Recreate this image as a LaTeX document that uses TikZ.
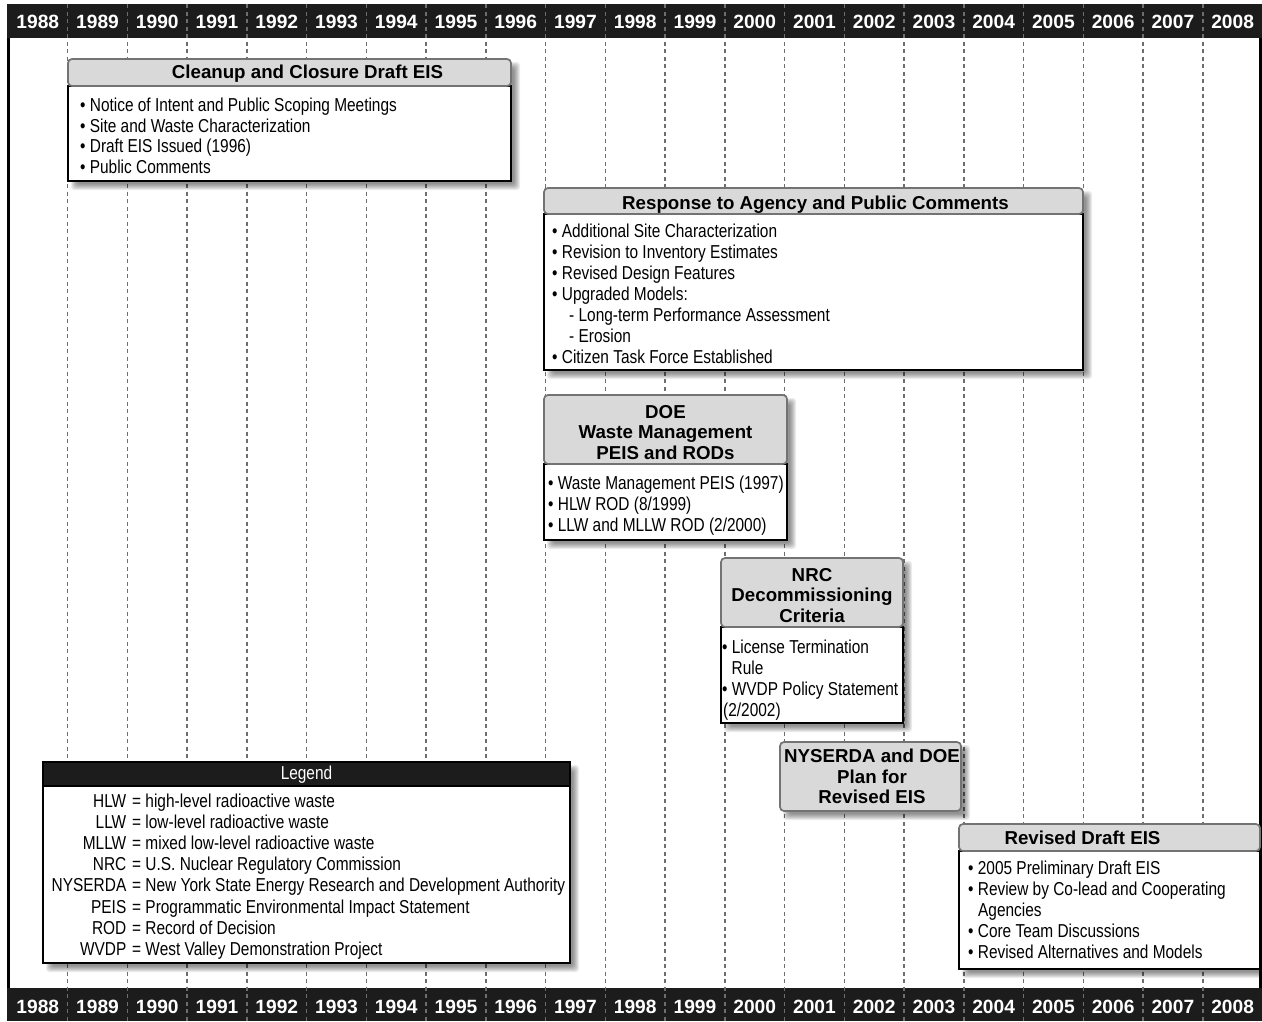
\documentclass[tikz,border=0pt]{standalone}
\usepackage{fontspec}
\setmainfont{Liberation Sans}
\newfontfamily\narrowfont[FakeStretch=0.825]{Liberation Sans}
\definecolor{barblack}{HTML}{1C1C1C}
\definecolor{hdrfill}{HTML}{D9D9D9}
\definecolor{hdrline}{HTML}{737373}
\definecolor{gridgray}{HTML}{6E6E6E}
\newcommand\boxshadow[4]{%
  \foreach \r in {0,1,2,3,4,5,6}{%
    \fill[black,opacity=0.075,rounded corners=3pt] ({#1+6-3+\r},{#2+6-3+\r}) rectangle ({#3+6+3-\r},{#4+6+3-\r});}}
\tikzset{
  hdr/.style={draw=hdrline, fill=hdrfill, line width=1.7pt, rounded corners=4pt},
  bodybox/.style={draw=black, fill=white, line width=1.5pt},
  item/.style={anchor=base west, inner sep=0pt, font=\narrowfont\fontsize{18.7}{21}\selectfont},
  itemr/.style={anchor=base east, inner sep=0pt, font=\narrowfont\fontsize{18.7}{21}\selectfont},
  htext/.style={anchor=base, inner sep=0pt, font=\bfseries\fontsize{18.7}{21}\selectfont},
  yearlbl/.style={anchor=base, inner sep=0pt, text=white, font=\bfseries\fontsize{19.2}{20}\selectfont},
  gridline/.style={draw=gridgray, line width=1.5pt, dash pattern=on 4pt off 3.5pt},
}
\begin{document}
\begin{tikzpicture}[x=1pt,y=-1pt]
\useasboundingbox (0,0) rectangle (1262,1021);
\fill[white] (0,0) rectangle (1262,1021);
% bars
\fill[barblack] (7,4) rectangle (1262,38);
\fill[barblack] (7,988) rectangle (1262,1021);
% grid
\foreach \k in {0,...,19}{
  \draw[gridline] ({67.7+59.74*\k},4) -- ({67.7+59.74*\k},1021);
}
% frame
\draw[black,line width=2.5pt] (8.5,38) -- (8.5,988);
\draw[black,line width=2.5pt] (1260.5,38) -- (1260.5,988);
% years
\foreach \y [count=\i from 0] in {1988,1989,1990,1991,1992,1993,1994,1995,1996,1997,1998,1999,2000,2001,2002,2003,2004,2005,2006,2007,2008}{
  \node[yearlbl] (top\y) at ({37.83+59.74*\i},28) {\y};
  \node[yearlbl] (bot\y) at ({37.83+59.74*\i},1013) {\y};
}
% shadows
\boxshadow{68}{59}{511}{181}
\boxshadow{544}{188}{1083}{370}
\boxshadow{544}{395}{787}{540}
\boxshadow{721}{558}{903}{723}
\boxshadow{780}{742}{961}{811}
\boxshadow{959}{824}{1260}{969}
\boxshadow{43}{762}{570}{963}

% Box 1
\draw[bodybox] (68,86) rectangle (511,181);
\draw[hdr] (68,59) rectangle (511,86);
\node[htext] (h1) at (307.5,78.5) {Cleanup and Closure Draft EIS};
\node[item] (b1a) at (80,111.5) {• Notice of Intent and Public Scoping Meetings};
\node[item] (b1b) at (80,132.1) {• Site and Waste Characterization};
\node[item] (b1c) at (80,152.7) {• Draft EIS Issued (1996)};
\node[item] (b1d) at (80,173.3) {• Public Comments};

% Box 2
\draw[bodybox] (544,214) rectangle (1083,370);
\draw[hdr] (544,188) rectangle (1083,214);
\node[htext] (h2) at (815.5,209.5) {Response to Agency and Public Comments};
\node[item] (b2a) at (552,237.5) {• Additional Site Characterization};
\node[item] (b2b) at (552,258.5) {• Revision to Inventory Estimates};
\node[item] (b2c) at (552,279.5) {• Revised Design Features};
\node[item] (b2d) at (552,300.5) {• Upgraded Models:};
\node[item] (b2e) at (569,321.5) {- Long-term Performance Assessment};
\node[item] (b2f) at (569,342.5) {- Erosion};
\node[item] (b2g) at (552,363.5) {• Citizen Task Force Established};

% Box 3 DOE
\draw[bodybox] (544,464) rectangle (787,540);
\draw[hdr] (544,395) rectangle (787,464);
\node[htext] (h3a) at (665.5,418) {DOE};
\node[htext] (h3b) at (665.5,438.5) {Waste Management};
\node[htext] (h3c) at (665.5,459) {PEIS and RODs};
\node[item] (b3a) at (548,489.5) {• Waste Management PEIS (1997)};
\node[item] (b3b) at (548,510.5) {• HLW ROD (8/1999)};
\node[item] (b3c) at (548,531.5) {• LLW and MLLW ROD (2/2000)};

% Box 4 NRC
\draw[bodybox] (721,627) rectangle (903,723);
\draw[hdr] (721,558) rectangle (903,627);
\node[htext] (h4a) at (812,581) {NRC};
\node[htext] (h4b) at (812,601.5) {Decommissioning};
\node[htext] (h4c) at (812,622) {Criteria};
\node[item] (b4a) at (722,653.5) {• License Termination};
\node[item] (b4b) at (731.5,674.5) {Rule};
\node[item] (b4c) at (722,695.5) {• WVDP Policy Statement};
\node[item] (b4d) at (723,716.5) {(2/2002)};

% Box 5 NYSERDA
\draw[hdr] (780,742) rectangle (961,811);
\node[htext] (h5a) at (872,762.5) {NYSERDA and DOE};
\node[htext] (h5b) at (872,783) {Plan for};
\node[htext] (h5c) at (872,803.5) {Revised EIS};

% Box 6 Revised Draft EIS
\draw[bodybox] (959,851) rectangle (1260,969);
\draw[hdr] (959,824) rectangle (1260,851);
\node[htext] (h6) at (1082.5,844.3) {Revised Draft EIS};
\node[item] (b6a) at (968,874) {• 2005 Preliminary Draft EIS};
\node[item] (b6b) at (968,895) {• Review by Co-lead and Cooperating};
\node[item] (b6c) at (978,916) {Agencies};
\node[item] (b6d) at (968,937) {• Core Team Discussions};
\node[item] (b6e) at (968,958) {• Revised Alternatives and Models};

% Legend
\draw[bodybox] (43,786) rectangle (570,963);
\draw[draw=black, fill=barblack, line width=1.5pt] (43,762) rectangle (570,786);
\node[anchor=base, inner sep=0pt, text=white, font=\narrowfont\fontsize{18.7}{21}\selectfont] (lg) at (306.5,779.3) {Legend};
\foreach \ab/\df [count=\j from 0] in {HLW/high-level radioactive waste, LLW/low-level radioactive waste, MLLW/mixed low-level radioactive waste, NRC/U.S. Nuclear Regulatory Commission, NYSERDA/New York State Energy Research and Development Authority, PEIS/Programmatic Environmental Impact Statement, ROD/Record of Decision, WVDP/West Valley Demonstration Project}{
  \node[itemr] (la\j) at (126.5,{807+21.2*\j}) {\ab};
  \node[item] (ld\j) at (132,{807+21.2*\j}) {= \df};
}
\end{tikzpicture}
\end{document}
